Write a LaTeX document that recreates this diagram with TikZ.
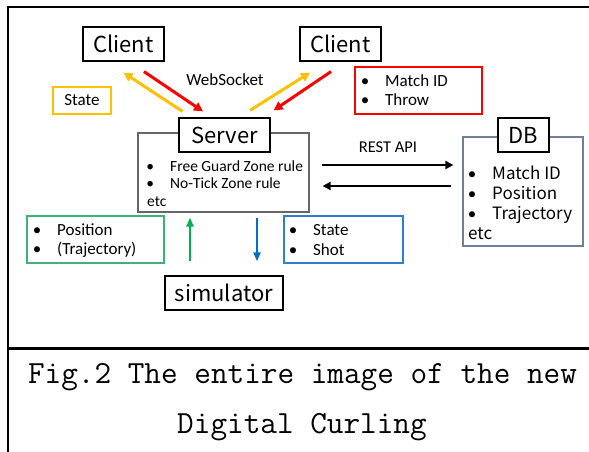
\documentclass[tikz,border=0pt]{standalone}
\usepackage{fontspec}
\setmainfont{Carlito}
\newfontfamily\jpfont{Noto Sans CJK JP}
\usetikzlibrary{arrows.meta,positioning,calc}
\definecolor{wsyellow}{HTML}{FFC000}
\definecolor{wsred}{HTML}{FF0000}
\definecolor{simgreen}{HTML}{00B050}
\definecolor{simblue}{HTML}{0070C0}
\definecolor{greenline}{HTML}{3CB371}
\definecolor{blueline}{HTML}{2E80CC}
\definecolor{rulegray}{HTML}{666666}
\definecolor{dbslate}{HTML}{6F7F99}
\newcommand{\itm}[1]{\makebox[20pt][c]{\rmfamily\textbullet}\hspace{10pt}#1}

\begin{document}
\begin{tikzpicture}[x=1pt, y=-1pt,
        titlebox/.style={draw, line width=1.2pt, fill=white, inner sep=0pt, font=\jpfont\fontsize{22}{22}\selectfont},
        infobox/.style={draw, line width=1.2pt, inner sep=0pt},
        itemtext/.style={anchor=base west, inner sep=0pt, font=\fontsize{17}{17}\selectfont},
        ruletext/.style={anchor=base west, inner sep=0pt, font=\fontsize{15.5}{15.5}\selectfont},
        dbtext/.style={anchor=base west, inner sep=0pt, font=\jpfont\fontsize{17}{17}\selectfont},
        plainlabel/.style={anchor=base, inner sep=0pt, font=\fontsize{17}{17}\selectfont},
        captext/.style={anchor=base, inner sep=0pt, font=\ttfamily\fontsize{32.3}{32.3}\selectfont},
        wsarrow/.style={-{Triangle[length=9pt,width=9pt]}, line width=3pt, draw=#1},
        restarrow/.style={-{Triangle[length=8pt,width=8pt]}, line width=2.6pt, draw=black},
        simarrow/.style={-{Triangle[length=9pt,width=7pt]}, line width=2.6pt, draw=#1},
    ]
    \useasboundingbox (0,0) rectangle (589,452);

    % Frame
    \draw[line width=2.5pt] (8,452) -- (8,7) -- (589,7);
    \draw[line width=3pt] (8,348) -- (589,348);

    % === Clients ===
    \node[titlebox, minimum width=81pt, minimum height=34pt] (client1) at (123.5,44) {Client};
    \node[titlebox, minimum width=81pt, minimum height=34pt] (client2) at (340.5,44) {Client};
    \node[plainlabel] (ws) at (225,85) {WebSocket};
    \node[infobox, draw=wsyellow, minimum width=58pt, minimum height=27pt, font=\fontsize{17}{17}\selectfont] (state) at (82,100.5) {State};
    \node[infobox, draw=wsred, minimum width=127pt, minimum height=47pt] (throwbox) at (418.5,90.5) {};
    \node[itemtext] (matchid) at (355,86) {\itm{Match ID}};
    \node[itemtext] (throw) at (355,106) {\itm{Throw}};

    % === Server ===
    \node[infobox, draw=rulegray, minimum width=171pt, minimum height=79pt] (rules) at (223.5,172.5) {};
    \node[titlebox, minimum width=91pt, minimum height=34pt] (server) at (224.5,135) {Server};
    \node[ruletext] (fgz) at (140,171) {\itm{Free Guard Zone rule}};
    \node[ruletext] (ntz) at (140,188) {\itm{No-Tick Zone rule}};
    \node[ruletext] (srvetc) at (147,206) {etc};

    % WebSocket arrows
    \draw[wsarrow=wsyellow] ($(server.north west)+(4,-6)$) -- ($(client1.south)+(0,11)$);
    \draw[wsarrow=wsred] ($(client1.south)+(20.5,10)$) -- ($(server.north)+(-21.5,-6)$);
    \draw[wsarrow=wsyellow] ($(server.north)+(25.5,-7)$) -- ($(client2.south)+(-30.5,11)$);
    \draw[wsarrow=wsred] ($(client2.south)+(-9.5,10)$) -- ($(server.north east)+(3,-7)$);

    % === DB ===
    \node[infobox, draw=dbslate, minimum width=120pt, minimum height=109pt] (dbbox) at (523,191.5) {};
    \node[titlebox, minimum width=51pt, minimum height=34pt] (db) at (523.5,135) {DB};
    \node[dbtext] (dbmatch) at (462,179) {\itm{Match ID}};
    \node[dbtext] (dbpos) at (462,199) {\itm{Position}};
    \node[dbtext] (dbtraj) at (462,219) {\itm{Trajectory}};
    \node[dbtext] (dbetc) at (468,239) {etc};

    % REST API
    \node[plainlabel, font=\fontsize{16.5}{16.5}\selectfont] (rest) at (388,152) {REST API};
    \draw[restarrow] ($(rules.east)+(12,-7.5)$) -- ($(dbbox.west |- rules.east)+(-9,-7.5)$);
    \draw[restarrow] ($(dbbox.west |- rules.east)+(-11,13.5)$) -- ($(rules.east)+(13,13.5)$);

    % === Simulator ===
    \node[titlebox, minimum width=118pt, minimum height=34pt] (sim) at (224,293) {simulator};
    \node[infobox, draw=greenline, minimum width=137pt, minimum height=47pt] (posbox) at (95.5,239.5) {};
    \node[itemtext] (pos) at (27,235) {\itm{Position}};
    \node[itemtext] (traj) at (27,254) {\itm{(Trajectory)}};
    \node[infobox, draw=blueline, minimum width=119pt, minimum height=47pt] (shotbox) at (343.5,239.5) {};
    \node[itemtext] (st) at (283,235) {\itm{State}};
    \node[itemtext] (shot) at (283,255) {\itm{Shot}};
    \draw[simarrow=simgreen] ($(sim.north)+(-34,-14)$) -- ($(rules.south)+(-33.5,5)$);
    \draw[simarrow=simblue] ($(rules.south)+(33.5,5)$) -- ($(sim.north)+(33,-14)$);

    % Caption
    \node[captext] (cap1) at (302.5,383) {Fig.2 The entire image of the new};
    \node[captext] (cap2) at (302,433) {Digital Curling};
\end{tikzpicture}
\end{document}
